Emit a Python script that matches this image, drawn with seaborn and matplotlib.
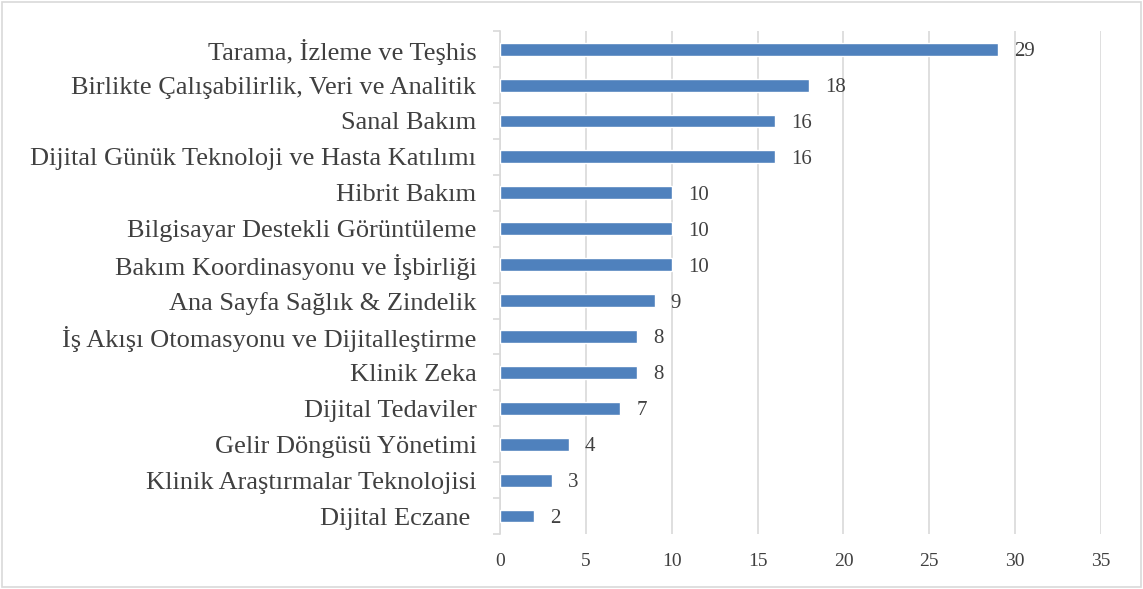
import matplotlib
matplotlib.use("Agg")
import matplotlib.pyplot as plt
import seaborn as sns
import pandas as pd

# categories and counts, top to bottom as in the chart
categories = [
    "Tarama, İzleme ve Teşhis",
    "Birlikte Çalışabilirlik, Veri ve Analitik",
    "Sanal Bakım",
    "Dijital Günük Teknoloji ve Hasta Katılımı",
    "Hibrit Bakım",
    "Bilgisayar Destekli Görüntüleme",
    "Bakım Koordinasyonu ve İşbirliği",
    "Ana Sayfa Sağlık & Zindelik",
    "İş Akışı Otomasyonu ve Dijitalleştirme",
    "Klinik Zeka",
    "Dijital Tedaviler",
    "Gelir Döngüsü Yönetimi",
    "Klinik Araştırmalar Teknolojisi",
    "Dijital Eczane ",
]
counts = [29, 18, 16, 16, 10, 10, 10, 9, 8, 8, 7, 4, 3, 2]
x_ticks = [0, 5, 10, 15, 20, 25, 30, 35]

df = pd.DataFrame({"kategori": categories, "sayi": counts})

sns.set_style("white")
plt.rcParams["font.family"] = ["Liberation Serif", "DejaVu Serif"]
text_col = "#404040"

fig = plt.figure(figsize=(11.43, 5.89), dpi=100)
ax = fig.add_axes([0.4375, 0.0934, 0.5258, 0.8536])

sns.barplot(data=df, x="sayi", y="kategori", color="#4F81BD", width=0.36,
            saturation=1, ax=ax, zorder=3)

ax.set_xlim(0, 35)
ax.set_xticks(x_ticks)
ax.set_xlabel("")
ax.set_ylabel("")
ax.xaxis.grid(True, color="#D9D9D9", linewidth=1.2, zorder=0)
for s in ["top", "right", "bottom"]:
    ax.spines[s].set_visible(False)
ax.spines["left"].set_color("#D9D9D9")
ax.spines["left"].set_linewidth(1.2)
ax.tick_params(axis="x", length=0, labelsize=14, labelcolor=text_col, pad=14)
ax.tick_params(axis="y", labelsize=19, labelcolor=text_col)
# category boundary ticks like the excel chart
ax.set_yticks([i - 0.5 for i in range(len(categories) + 1)], minor=True)
ax.tick_params(axis="y", which="minor", left=True, length=5, color="#D9D9D9", width=1.2)
ax.tick_params(axis="y", which="major", length=0, pad=17)

for i, v in enumerate(counts):
    ax.annotate(str(v), (v, i), xytext=(11.5, 0), textcoords="offset points",
                va="center_baseline", ha="left", fontsize=15, color=text_col)

# thin frame around the whole figure
fig.patches.append(plt.Rectangle((0.002, 0.003), 0.996, 0.994,
                                 transform=fig.transFigure, fill=False,
                                 edgecolor="#D9D9D9", linewidth=1.2))

fig.savefig("out.png", dpi=100)
